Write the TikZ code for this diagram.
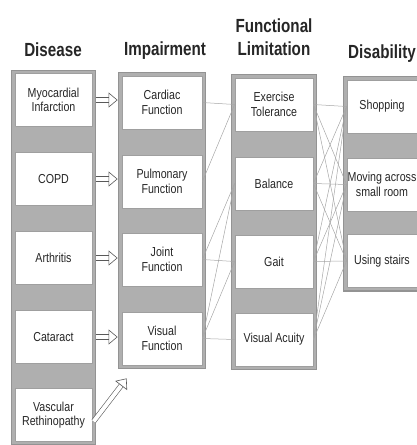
\documentclass[tikz,border=0pt]{standalone}
\usepackage{fontspec}
\setmainfont{Liberation Sans}
\newfontfamily\boxfont[FakeStretch=0.82]{Liberation Sans}
\newfontfamily\headfont[FakeStretch=0.8]{Liberation Sans}
\usepackage{tikz}
\usetikzlibrary{arrows.meta,calc,fit,backgrounds}
\usetikzlibrary{positioning}
\tikzset{cell/.style={draw=gray!75,line width=0.8pt,fill=white,minimum height=53pt,inner sep=0pt,align=center,font=\boxfont\fontsize{13}{14.5}\selectfont,text=black!85}}
\tikzset{colframe/.style={draw=gray!85,line width=1.2pt,fill=gray!63,inner sep=3pt}}
\tikzset{head/.style={font=\headfont\bfseries\fontsize{19}{23}\selectfont,inner sep=0pt,text=black!85,align=center}}
\tikzset{hollow/.style={draw=gray!70!black,line width=0.6pt,double=white,double distance=4pt,-{Triangle[open,length=9pt,width=15pt,line width=0.6pt]},shorten <=4pt,shorten >=4pt}}
\tikzset{link/.style={draw=gray!70,line width=0.5pt}}

\begin{document}
\begin{tikzpicture}[x=1pt,y=-1pt,>=Stealth,line join=round]
\useasboundingbox (0,0) rectangle (416,445);
% --- headers
\node[head,anchor=base] (hdis) at (53,56) {Disease};
\node[head,anchor=base] (himp) at (165,55) {Impairment};
\node[head,anchor=south] (hfun) at (274,56) {Functional\\Limitation};
\node[head,anchor=base west] (hdab) at (348,58) {Disability};
% --- disease column
\node[cell,minimum width=77pt] (mi) at (53.5,100) {Myocardial\\Infarction};
\node[cell,minimum width=77pt] (copd) at (53.5,179) {COPD};
\node[cell,minimum width=77pt] (arth) at (53.5,258) {Arthritis};
\node[cell,minimum width=77pt] (cat) at (53.5,337) {Cataract};
\node[cell,minimum width=77pt] (vasc) at (53.5,415) {Vascular\\Rethinopathy};
% --- impairment column
\node[cell,minimum width=80pt] (card) at (162,102.5) {Cardiac\\Function};
\node[cell,minimum width=80pt] (pulm) at (162,181.5) {Pulmonary\\Function};
\node[cell,minimum width=80pt] (joint) at (162,259.5) {Joint\\Function};
\node[cell,minimum width=80pt] (visf) at (162,338.5) {Visual\\Function};
% --- functional limitation column
\node[cell,minimum width=78pt] (exer) at (274,104.5) {Exercise\\Tolerance};
\node[cell,minimum width=78pt] (bal) at (274,183.5) {Balance};
\node[cell,minimum width=78pt] (gait) at (274,261.5) {Gait};
\node[cell,minimum width=78pt] (vacu) at (274,339.5) {Visual Acuity};
% --- disability column
\node[cell,minimum width=70pt] (shop) at (382,106.5) {Shopping};
\node[cell,minimum width=70pt] (move) at (382,184.5) {Moving across\\small room};
\node[cell,minimum width=70pt] (stair) at (382,261) {Using stairs};
% --- grey frames behind
\begin{scope}[on background layer]
\node[colframe,fit=(mi)(vasc)] (fdis) {};
\node[colframe,fit=(card)(visf)] (fimp) {};
\node[colframe,fit=(exer)(vacu)] (ffun) {};
\node[colframe,fit=(shop)(stair)] (fdab) {};
\end{scope}
% --- disease -> impairment
\draw[hollow] (mi.east) -- (mi.east -| card.west);
\draw[hollow] (copd.east) -- (copd.east -| pulm.west);
\draw[hollow] (arth.east) -- (arth.east -| joint.west);
\draw[hollow] (cat.east) -- (cat.east -| visf.west);
\draw[hollow,shorten <=2pt,shorten >=0pt] ($(vasc.east)+(0,8)$) -- ($(visf.south west)+(5,13)$);
% --- impairment -> functional limitation
\draw[link] (card.east) -- (exer.west);
\draw[link] (pulm.east) -- (exer.west);
\draw[link] (joint.east) -- (bal.west);
\draw[link] (joint.east) -- (gait.west);
\draw[link] (visf.east) -- (bal.west);
\draw[link] (visf.east) -- (gait.west);
\draw[link] (visf.east) -- (vacu.west);
% --- functional limitation -> disability
\foreach \a in {exer,bal,gait,vacu}
  \foreach \b in {shop,move,stair}
    \draw[link] (\a.east) -- (\b.west);
\end{tikzpicture}
\end{document}
